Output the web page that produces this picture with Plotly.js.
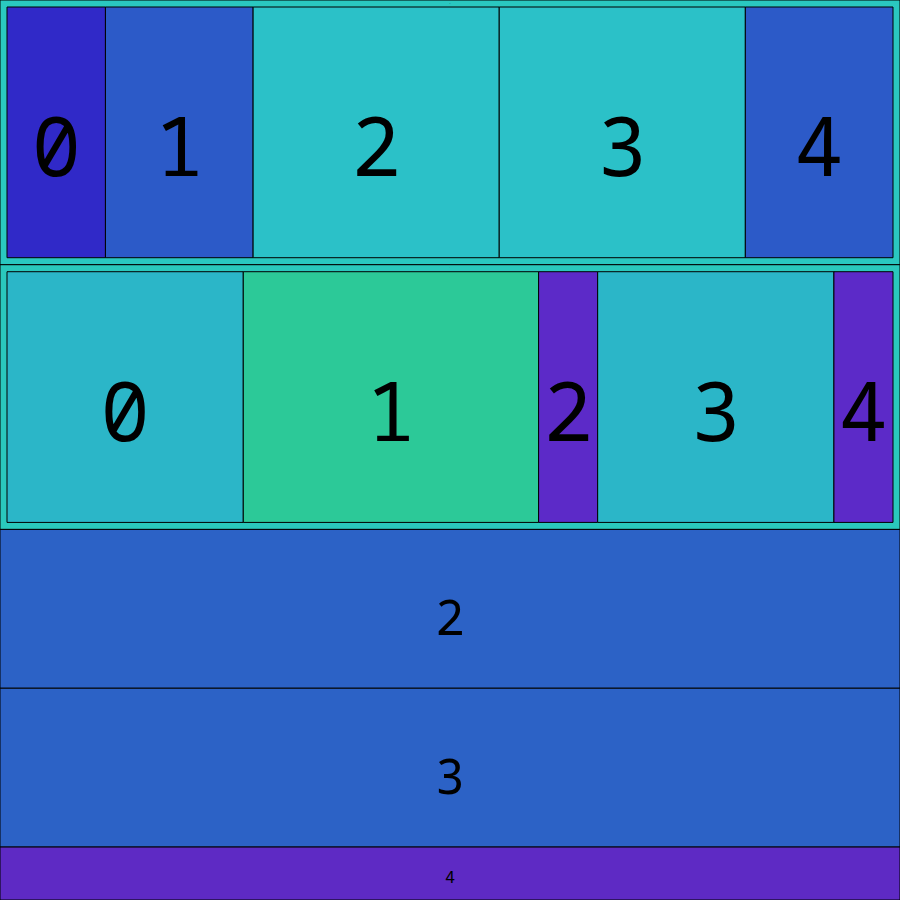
<!DOCTYPE html>
<html>
<head>
<meta charset="utf-8">
<script src="https://cdn.plot.ly/plotly-3.0.1.min.js"></script>
<style>html,body{margin:0;padding:0;background:#fff;overflow:hidden;}#chart{width:914px;height:914px;margin:-7px 0 0 -7px;}</style>
</head>
<body>
<div id="chart"></div>
<script>
// Node ids, labels, parents, values (proportional)
const ids     = ["A","B","C","D","E","A0","A1","A2","A3","A4","B0","B1","B2","B3","B4"];
const labels  = ["0","1","2","3","4","0","1","2","3","4","0","1","2","3","4"];
const parents = ["","","","","","A","A","A","A","A","B","B","B","B","B"];
const values  = [90,90,54,54,18,10,15,25,25,15,24,30,6,24,6];
const colors  = ["#2ac8c0","#2ac8bc","#2c62c6","#2c62c6","#5e2ac4",
                 "#3029c8","#2c5ac8","#2bc1c8","#2bc1c8","#2c5ac8",
                 "#2bb6c8","#2cc998","#5c2ac8","#2bb6c8","#5c2ac8"];
const textSizes = [12,12,49,49,17,82,82,82,82,82,82,82,82,82,82];
const templates = ids.map(function(id){
  return (id === "A" || id === "B") ? "" : "<span style='font-size:0.06em'>&nbsp;</span><br>%{label}";
});

Plotly.newPlot("chart", [{
  type: "treemap",
  ids: ids,
  labels: labels,
  parents: parents,
  values: values,
  branchvalues: "total",
  sort: false,
  texttemplate: templates,
  textposition: "middle center",
  textfont: {family: "Noto Sans Mono", size: textSizes, color: "#000"},
  marker: {colors: colors, line: {color: "#000", width: 1}, pad: {t: 7, l: 7, r: 7, b: 7}},
  tiling: {packing: "dice-slice", pad: 0},
  pathbar: {visible: false},
  hoverinfo: "none"
}], {
  width: 914, height: 914,
  margin: {l: 0, r: 0, t: 0, b: 0},
  paper_bgcolor: "#fff",
  hovermode: false
}, {displayModeBar: false, staticPlot: true});
</script>
</body>
</html>
